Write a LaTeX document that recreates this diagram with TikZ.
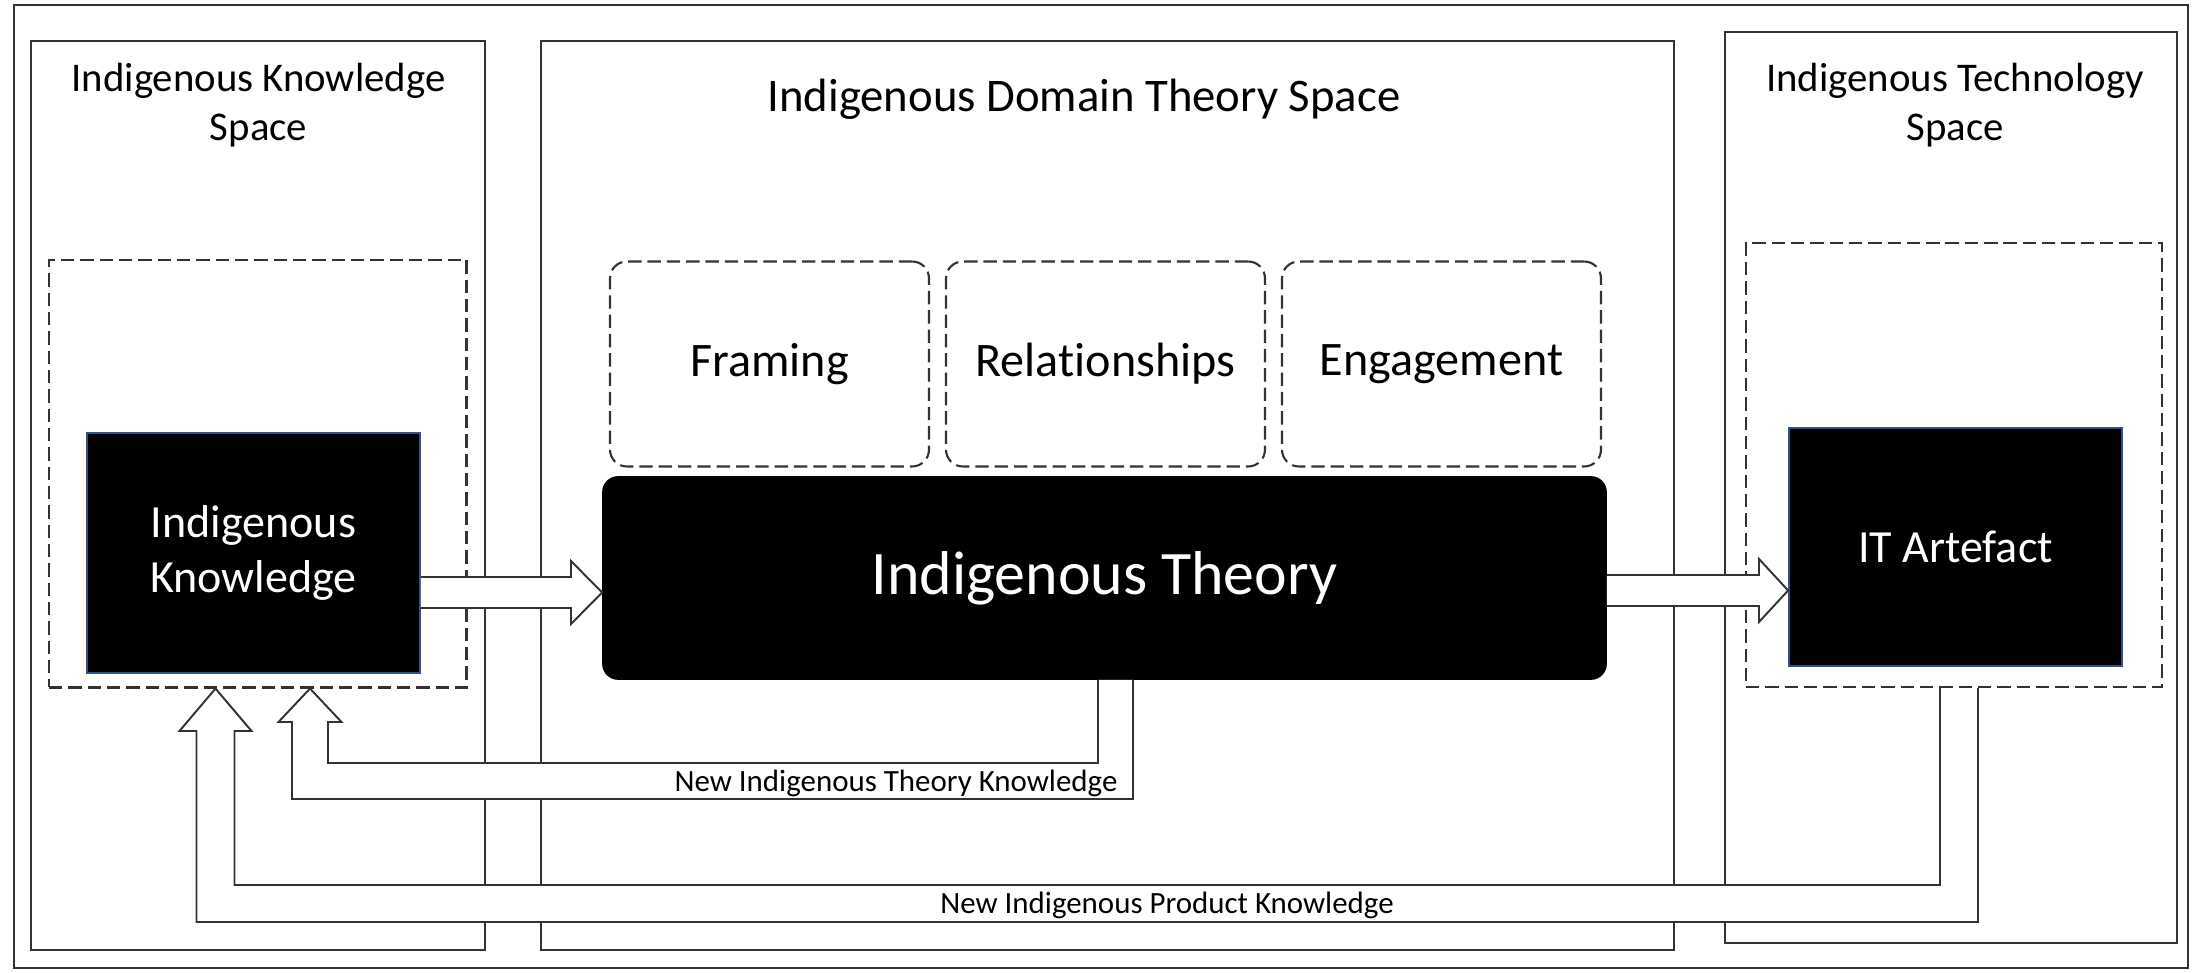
\documentclass[tikz,border=0pt]{standalone}
\usepackage{fontspec}
\setmainfont{Carlito}[Ligatures=NoCommon]
\usetikzlibrary{calc}
\definecolor{ln}{HTML}{333333}
\definecolor{bb}{HTML}{2F528F}
\begin{document}
\begin{tikzpicture}[x=0.1mm,y=-0.1mm,
  space/.style={draw=ln, line width=0.55pt, inner sep=0pt},
  dbox/.style={draw=ln, line width=0.6pt, dash pattern=on 3.8pt off 1.7pt, inner sep=0pt},
  rdbox/.style={dbox, rounded corners=4.8pt, font=\fontsize{13.7}{16}\selectfont},
  blkbox/.style={fill=black, draw=bb, line width=0.5pt, text=white, inner sep=0pt, align=center, font=\fontsize{13.1}{15.6}\selectfont},
  theorybox/.style={fill=black, draw=black, line width=0.5pt, rounded corners=4.3pt, text=white, inner sep=0pt, font=\fontsize{17.6}{21}\selectfont},
  barrow/.style={draw=ln, fill=white, line width=0.55pt, line join=miter},
  ttl/.style={font=\fontsize{11.6}{13.9}\selectfont, align=center, inner sep=0pt},
  lbl/.style={font=\fontsize{8.8}{10.5}\selectfont, inner sep=0pt, anchor=base}
]
\useasboundingbox (0,0) rectangle (2199,973);
% spaces
\node[space, minimum width=217.4mm, minimum height=96.3mm] (frame) at (1101,486.5) {};
\node[space, minimum width=45.4mm, minimum height=90.9mm] (ksp) at (258,495.5) {};
\node[space, minimum width=113.3mm, minimum height=90.9mm] (tsp) at (1107.5,495.5) {};
\node[space, minimum width=45.2mm, minimum height=91.1mm] (psp) at (1951,487.5) {};
\node[ttl] (ksptitle) at (258.5,105) {Indigenous Knowledge\\Space};
\node[font=\fontsize{13.3}{16}\selectfont, inner sep=0pt, anchor=base] (tsptitle) at (1084,112) {Indigenous Domain Theory Space};
\node[ttl] (psptitle) at (1955,105) {Indigenous Technology\\Space};
% dashed containers
\node[dbox, minimum width=41.75mm, minimum height=42.75mm] (kd) at (257.75,473.75) {};
\node[dbox, minimum width=41.6mm, minimum height=44.4mm] (pd) at (1954,465) {};
% theory elements
\node[rdbox, minimum width=31.9mm, minimum height=20.5mm] (fr) at (769.5,364) {Framing};
\node[rdbox, minimum width=31.9mm, minimum height=20.5mm] (rel) at (1105.5,364) {Relationships};
\node[rdbox, minimum width=31.9mm, minimum height=20.5mm] (eng) at (1441.5,364) {Engagement};
% black boxes
\node[blkbox, minimum width=33.3mm, minimum height=24mm] (ik) at (253.5,553) {Indigenous\\Knowledge};
\node[theorybox, minimum width=100.3mm, minimum height=20.2mm] (th) at (1104.5,578) {Indigenous Theory};
\node[blkbox, minimum width=33.3mm, minimum height=23.8mm] (it) at (1955.5,547) {IT Artefact};
% block arrows
\draw[barrow] ($(ik.east)+(0,24)$) -- (571,577) -- (571,561) -- ($(th.west)+(0,14.5)$) -- (571,624) -- (571,608) -- ($(ik.east)+(0,55)$);
\draw[barrow] ($(th.east)+(0,-3)$) -- (1759,575) -- (1759,559) -- ($(it.west)+(0,43.5)$) -- (1759,622) -- (1759,606) -- ($(th.east)+(0,28)$);
% feedback arrows
\draw[barrow] ($(th.south)+(28.5,0)$) -- (1133,799) -- (292,799) -- (292,722) -- (278.5,722) -- ($(kd.south)+(52.25,0)$) -- (341.5,722) -- (328,722) -- (328,763) -- (1098,763) -- ($(th.south)+(-6.5,0)$);
\draw[barrow] ($(pd.south)+(24,0)$) -- (1978,922) -- (196.5,922) -- (196.5,731) -- (179.5,731) -- ($(kd.south)+(-42.25,0)$) -- (251.5,731) -- (234.5,731) -- (234.5,885) -- (1940,885) -- ($(pd.south)+(-14,0)$);
% labels
\node[lbl] (ntk) at (896,792) {New Indigenous Theory Knowledge};
\node[lbl] (npk) at (1167,914) {New Indigenous Product Knowledge};
\end{tikzpicture}
\end{document}
